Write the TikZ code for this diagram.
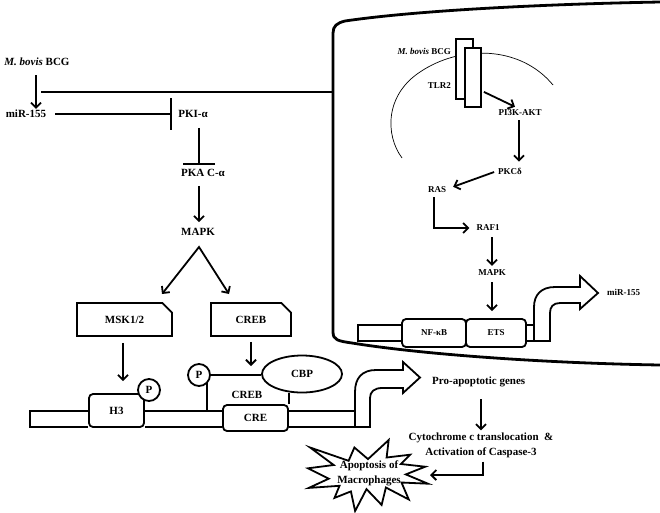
\documentclass[tikz,border=0pt]{standalone}
\usepackage{fontspec}
\setmainfont{Liberation Serif}
\usetikzlibrary{arrows.meta,shapes.geometric,shapes.misc,calc}

\begin{document}
\begin{tikzpicture}[x=1pt,y=-1pt,
	txt/.style={font=\bfseries\fontsize{11}{15}\selectfont, inner sep=1pt, align=center},
	celltxt/.style={font=\bfseries\fontsize{9}{11}\selectfont, inner sep=1pt},
	arr/.style={line width=1.8pt, -{Straight Barb[length=5pt,width=10pt]}},
	arrs/.style={line width=1.8pt, {Straight Barb[length=5pt,width=10pt]}-{Straight Barb[length=5pt,width=10pt]}},
	inh/.style={line width=1.8pt, -{Bar[width=32pt,line width=1.8pt]}},
	box/.style={draw, line width=1.8pt, fill=white, inner sep=0pt, font=\bfseries\fontsize{11}{13}\selectfont},
	cellbox/.style={box, rounded corners=4pt, font=\bfseries\fontsize{9}{11}\selectfont},
	tag/.style={box, circle, minimum size=22pt},
	chamf/.style={box, chamfered rectangle, chamfered rectangle corners=north east, chamfered rectangle xsep=6pt, chamfered rectangle ysep=6pt},
	recep/.style={draw, line width=1.8pt, fill=white, inner sep=0pt},
	strand/.style={line width=1.8pt},
	wall/.style={line width=2.8pt}]
	\useasboundingbox (0,0) rectangle (660,512);
	
	%Cell wall
	\draw [wall] (660,2) .. controls (550,4) and (420,10) .. (345,21) .. controls (337,23) and (333,26) .. (333,33) -- (333,332) .. controls (333,340) and (338,341) .. (352,343) .. controls (420,354) and (540,363) .. (660,365) ;
	%Membrane
	\draw [line width=0.7pt] (402,158) .. controls (385,135) and (385,95) .. (420,72) .. controls (460,45) and (520,45) .. (553,85) ;
	
	% Text Node
	\node [txt] (bcgL) at (37,62) {\textit{M. bovis}\ BCG};
	\node [txt] (mirL) at (26,114) {miR-155};
	\node [txt] (pki) at (193,114) {PKI-α};
	\node [txt] (pka) at (203,173) {PKA C-α};
	\node [txt] (mapkL) at (198,232) {MAPK};
	
	%Straight Lines
	\coordinate (fork) at (41,92);
	\coordinate (wallL) at (333,92);
	\draw [arr, shorten <=8pt] (bcgL.south -| 36,0) -- (mirL.north -| 36,0);
	\draw [strand] (fork) -- (wallL);
	\draw [inh, shorten <=8pt, shorten >=5pt] (mirL.east) -- (pki.west);
	\draw [inh, shorten <=9pt, shorten >=3pt] (pki.south -| 199,0) -- (pka.north -| 199,0);
	\draw [arr, shorten <=8pt, shorten >=5pt] (pka.south -| 199,0) -- (mapkL.north -| 199,0);
	\coordinate (peak) at (199,247);
	\coordinate (mskin) at (162,294);
	\coordinate (crebin) at (229,294);
	\draw [arrs] (mskin) -- (peak) -- (crebin);
	
	%Shape: Boxes
	\node [chamf, minimum width=95pt, minimum height=33pt] (msk) at (124.5,319.5) {MSK1/2};
	\node [chamf, minimum width=80pt, minimum height=33pt] (creb) at (251,319.5) {CREB};
	\node [box, rounded corners=4pt, minimum width=55pt, minimum height=33pt] (h3) at (116.5,410.5) {H3};
	\node [tag] (p1) at (149,390) {P};
	\node [tag] (p2) at (199,375) {P};
	\node [box, ellipse, minimum width=80pt, minimum height=37pt] (cbp) at (302,374) {CBP};
	\node [box, rounded corners=4pt, minimum width=65pt, minimum height=26pt] (cre) at (255.5,418) {CRE};
	\node [txt] (crebtxt) at (247,395) {CREB};
	
	\coordinate (crebtip) at (251,366);
	\draw [arr, shorten <=6pt, shorten >=12pt] (msk.south -| 123,0) -- (h3.north -| 123,0);
	\draw [arr, shorten <=5pt] (creb.south) -- (crebtip);
	
	%Straight Lines: DNA
	\draw [strand] (h3.west |- 0,411) -- (30,411) -- (30,427) -- (h3.west |- 0,427);
	\draw [strand] (h3.east |- 0,411) -- (cre.west |- 0,411);
	\draw [strand] (h3.east |- 0,427) -- (cre.west |- 0,427);
	\draw [strand] (cre.east |- 0,411) -- (355,411);
	\draw [strand] (cre.east |- 0,427) -- (355,427);
	\draw [strand] (p2.east) -- (p2.east -| cbp.west);
	\draw [strand] (p2.-45 -| 207,0) -- (207,411);
	\draw [strand] (cre.north east) -- (cre.north east |- cbp.south);
	%Bent arrow
	\draw [strand, fill=white] (355,427) -- (355,392) .. controls (355,378) and (362,370) .. (376,370) -- (403,370) -- (403,362) -- (420,377.5) -- (403,393) -- (403,388) -- (382,388) .. controls (374,388) and (370,392) .. (370,398) -- (370,427) -- cycle ;
	
	% Text Node
	\node [txt, anchor=west] (pro) at (431,382) {Pro-apoptotic genes};
	\node [txt] (cyto) at (481,445) {Cytochrome c translocation~~\&\\Activation of Caspase-3};
	\draw [arr, shorten <=11pt, shorten >=1pt] (pro.south -| cyto.north) -- (cyto.north);
	\coordinate (apoR) at (430,475);
	\draw [arr, shorten <=3pt] (cyto.south -| 483,0) |- (apoR);
	
	%Shape: Explosion
	\draw [line width=1.8pt, fill=white] (368,459.1) -- (388.7,440) -- (386.6,457.5) -- (410.1,454.7) -- (400.8,464) -- (425.2,466.7) -- (405.8,474.4) -- (428,483.7) -- (401.5,482.5) -- (408.8,499.5) -- (385.9,487.5) -- (381.6,504.9) -- (366.5,489.1) -- (355.1,511) -- (350.9,491.4) -- (334.5,497.9) -- (339.5,485.8) -- (308.8,487.9) -- (328.7,478.7) -- (308,468.3) -- (333.7,465) -- (310.1,447.5) -- (348.6,460.8) -- (354.4,447.5) -- cycle ;
	\node [txt] (apo) at (369,473) {Apoptosis of\\Macrophages};
	
	%Cell: receptor
	\node [celltxt, anchor=east] (bcgR) at (452,51) {\textit{M. bovis}\ BCG};
	\node [celltxt, anchor=east] (tlr) at (452,86) {TLR2};
	\node [recep, minimum width=17pt, minimum height=60pt] (tlrA) at (464.5,69) {};
	\node [recep, minimum width=16pt, minimum height=59pt] (tlrB) at (473,77.5) {};
	
	% Text Node
	\node [celltxt] (pi3k) at (520,113) {PI3K-AKT};
	\node [celltxt] (pkc) at (510,171) {PKCδ};
	\node [celltxt] (ras) at (437,190) {RAS};
	\node [celltxt] (raf) at (488,228) {RAF1};
	\node [celltxt] (mapkR) at (492,273) {MAPK};
	\node [cellbox, minimum width=64pt, minimum height=28pt] (nfkb) at (434,333) {NF-κB};
	\node [cellbox, minimum width=60pt, minimum height=28pt] (ets) at (496,333) {ETS};
	\node [celltxt, anchor=west] (mirR) at (606,292) {miR-155};
	
	%Straight Lines: cell
	\draw [arr] ($(tlrB.south east)+(2,-16)$) -- ($(pi3k.north)+(-5,-2)$);
	\draw [arr, shorten <=3pt, shorten >=5pt] (pi3k.south -| 519,0) -- (pkc.north -| 519,0);
	\draw [arr, shorten <=3pt] (pkc.west) -- ($(ras.north east)+(6,1)$);
	\draw [arr, shorten <=3pt, shorten >=6pt] (ras.south -| 434,0) |- (raf.west);
	\draw [arr, shorten <=5pt, shorten >=3pt] (raf.south -| mapkR) -- (mapkR.north);
	\draw [arr, shorten <=5pt, shorten >=7pt] (mapkR.south) -- (mapkR.south |- ets.north);
	\draw [strand] (nfkb.west |- 0,325) -- (358,325) -- (358,341) -- (nfkb.west |- 0,341);
	\draw [strand] (ets.east |- 0,325) -- (534,325);
	\draw [strand] (ets.east |- 0,341) -- (534,341);
	%Bent arrow
	\draw [strand, fill=white] (534,341) -- (534,307) .. controls (534,295) and (541,287) .. (555,287) -- (580,287) -- (580,276) -- (598,293) -- (580,309) -- (580,303) -- (560,303) .. controls (553,303) and (550,307) .. (550,313) -- (550,341) -- cycle ;
	
\end{tikzpicture}
\end{document}
